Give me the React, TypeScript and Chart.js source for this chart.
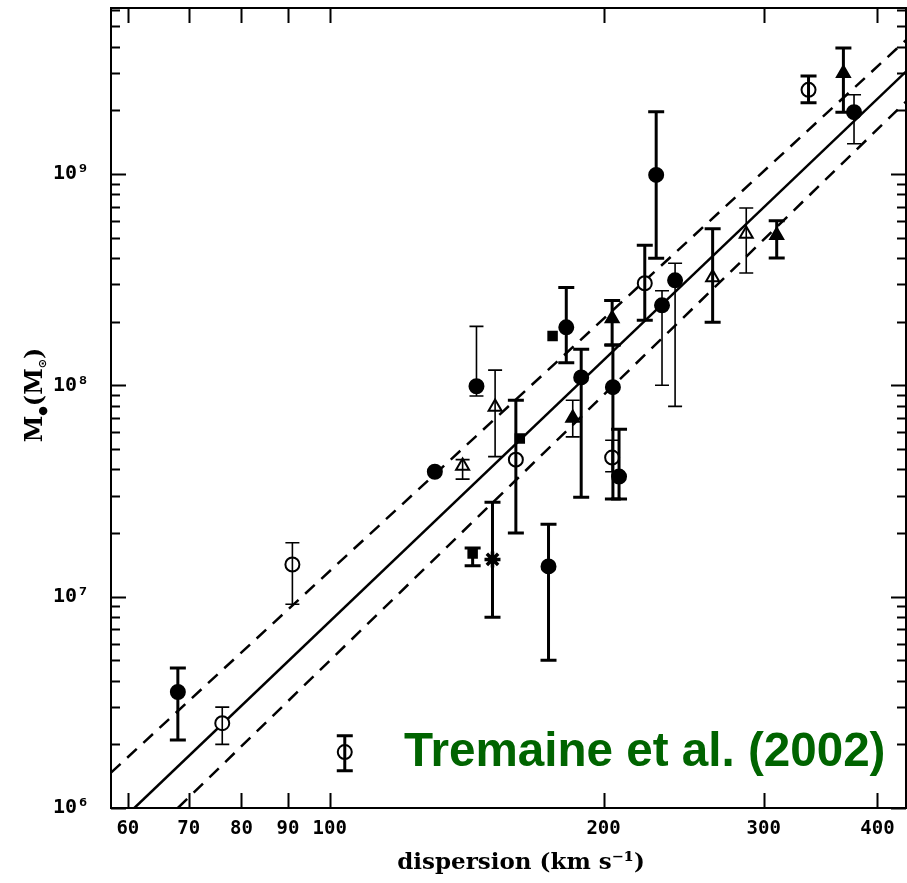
import React, { useEffect, useRef } from 'react';
import { Chart, registerables } from 'chart.js';

Chart.register(...registerables);

// ---- data (velocity dispersion in km/s, black-hole mass in solar masses) ----
const sigma = [68.1, 76.2, 91.0, 103.9, 130.5, 140, 145, 143.6, 152, 151, 161.8, 160.2, 174, 175.8, 182, 185, 189, 204.4, 204.8, 204.4, 208, 222, 228.5, 231.9, 239.7, 263.6, 287, 310, 336, 367, 377];
const mass = [3.54e6, 2.52e6, 1.42e7, 1.84e6, 3.9e7, 4.15e7, 9.9e7, 1.6e7, 7.9e7, 1.5e7, 5.6e7, 4.45e7, 1.39e7, 1.71e8, 1.88e8, 7.0e7, 1.09e8, 2.07e8, 9.8e7, 4.55e7, 3.7e7, 3.04e8, 9.9e8, 2.39e8, 3.14e8, 3.24e8, 5.2e8, 5.13e8, 2.5e9, 3.0e9, 1.96e9];
const massLow = [2.1e6, 2.0e6, 9.2e6, 1.5e6, null, 3.6e7, 8.9e7, 1.4e7, 4.6e7, 8.0e6, null, 2.0e7, 5.0e6, null, 1.28e8, 5.7e7, 2.95e7, 1.55e8, 2.9e7, 3.9e7, 2.9e7, 2.03e8, 3.99e8, 1.0e8, 7.95e7, 1.99e8, 3.4e8, 4.0e8, 2.17e9, 1.96e9, 1.39e9];
const massHigh = [4.6e6, 3.0e6, 1.8e7, 2.2e6, null, 4.45e7, 1.9e8, 1.7e7, 1.18e8, 2.8e7, null, 8.5e7, 2.2e7, null, 2.9e8, 8.5e7, 1.48e8, 2.52e8, 1.55e8, 5.5e7, 6.2e7, 4.6e8, 1.97e9, 2.8e8, 3.78e8, 5.5e8, 6.9e8, 6.0e8, 2.91e9, 3.95e9, 2.37e9];
const markerShape = ['circle', 'circle', 'circle', 'circle', 'circle', 'triangle', 'circle', 'rect', 'triangle', 'star', 'rect', 'circle', 'circle', 'rect', 'circle', 'triangle', 'circle', 'triangle', 'circle', 'circle', 'circle', 'circle', 'circle', 'circle', 'circle', 'triangle', 'triangle', 'triangle', 'circle', 'triangle', 'circle'];
const markerFilled = [true, false, false, false, true, false, true, true, false, true, true, false, true, true, true, true, true, true, true, false, true, false, true, true, true, false, false, true, false, true, true];
const thickError = [true, false, false, true, false, false, false, true, false, true, false, true, true, false, true, false, true, true, true, false, true, true, true, false, false, true, false, true, true, true, false];

// fit line (solid) and its 1-sigma envelope (dashed), read as endpoints
const fitSigma = [61.0, 430];
const fitMass = [1.0e6, 3.05e9];
const upperSigma = [57.5, 430];
const upperMass = [1.47e6, 4.3e9];
const lowerSigma = [68.1, 430];
const lowerMass = [1.0e6, 2.2e9];

// axis ticks
const xTickValues = [60, 70, 80, 90, 100, 200, 300, 400];
const yTickValues = [1e6, 1e7, 1e8, 1e9];
const yTickLabels = ['10\u2076', '10\u2077', '10\u2078', '10\u2079'];

const annotationText = 'Tremaine et al. (2002)';
const xTitle = 'dispersion (km s\u207B\u00B9)';

const decorPlugin = {
  id: 'decor',
  afterDatasetsDraw(chart: any) {
    const ctx = chart.ctx;
    const xs = chart.scales.x;
    const ys = chart.scales.y;
    ctx.save();
    ctx.strokeStyle = '#000';
    for (let i = 0; i < sigma.length; i++) {
      const lo = massLow[i];
      const hi = massHigh[i];
      if (lo == null || hi == null) continue;
      const px = xs.getPixelForValue(sigma[i]);
      const pLo = ys.getPixelForValue(lo);
      const pHi = ys.getPixelForValue(hi);
      const thick = thickError[i];
      ctx.lineWidth = thick ? 3 : 1.6;
      const cap = thick ? 8 : 7;
      ctx.beginPath();
      ctx.moveTo(px, pLo);
      ctx.lineTo(px, pHi);
      ctx.moveTo(px - cap, pLo);
      ctx.lineTo(px + cap, pLo);
      ctx.moveTo(px - cap, pHi);
      ctx.lineTo(px + cap, pHi);
      ctx.stroke();
    }
    ctx.restore();
  },
  afterDraw(chart: any) {
    const ctx = chart.ctx;
    const xs = chart.scales.x;
    const ys = chart.scales.y;
    const a = chart.chartArea;
    ctx.save();
    ctx.strokeStyle = '#000';
    ctx.lineWidth = 2;
    ctx.strokeRect(a.left, a.top, a.right - a.left, a.bottom - a.top);
    ctx.beginPath();
    for (const v of xTickValues) {
      const px = Math.round(xs.getPixelForValue(v)) + 0.5;
      ctx.moveTo(px, a.bottom);
      ctx.lineTo(px, a.bottom - 15);
      ctx.moveTo(px, a.top);
      ctx.lineTo(px, a.top + 15);
    }
    for (let e = 6; e <= 9; e++) {
      for (let m = 1; m <= 9; m++) {
        const v = m * Math.pow(10, e);
        if (v < ys.min || v > ys.max) continue;
        const py = Math.round(ys.getPixelForValue(v)) + 0.5;
        const len = m === 1 ? 15 : 9;
        ctx.moveTo(a.left, py);
        ctx.lineTo(a.left + len, py);
        ctx.moveTo(a.right, py);
        ctx.lineTo(a.right - len, py);
      }
    }
    ctx.stroke();

    // x axis title
    ctx.fillStyle = '#000';
    ctx.font = 'bold 23px "DejaVu Serif"';
    ctx.textAlign = 'center';
    ctx.textBaseline = 'alphabetic';
    ctx.fillText(xTitle, 521, 869);

    // y axis title: M_bullet (M_sun), rotated
    ctx.save();
    ctx.translate(36, 395);
    ctx.rotate(-Math.PI / 2);
    const big = 'bold 24px "DejaVu Serif"';
    const small = 'bold 11px "DejaVu Sans"';
    const parts: [string, string, number][] = [
      ['M', big, 0],
      ['\u25CF', small, 7],
      ['(M', big, 0],
      ['\u2299', small, 7],
      [')', big, 0],
    ];
    let total = 0;
    for (const [t, f] of parts) {
      ctx.font = f;
      total += ctx.measureText(t).width;
    }
    let cx = -total / 2;
    ctx.textAlign = 'left';
    ctx.textBaseline = 'middle';
    for (const [t, f, dy] of parts) {
      ctx.font = f;
      ctx.fillText(t, cx, dy);
      cx += ctx.measureText(t).width;
    }
    ctx.restore();

    // annotation
    ctx.fillStyle = '#006400';
    ctx.font = 'bold 47.6px "Liberation Sans", Arial, sans-serif';
    ctx.textAlign = 'left';
    ctx.textBaseline = 'alphabetic';
    ctx.fillText(annotationText, 404, 766);
    ctx.restore();
  },
};

const zeroPadding = (scale: any) => {
  scale.paddingTop = 0;
  scale.paddingBottom = 0;
  scale.paddingLeft = 0;
  scale.paddingRight = 0;
};

export default function App() {
  const canvasRef = useRef<HTMLCanvasElement | null>(null);

  useEffect(() => {
    const canvas = canvasRef.current;
    if (!canvas) return;
    const points = sigma.map((s, i) => ({ x: s, y: mass[i] }));
    const toXY = (xsArr: number[], ysArr: number[]) => xsArr.map((x, i) => ({ x, y: ysArr[i] }));
    const chart = new Chart(canvas, {
      type: 'scatter',
      data: {
        datasets: [
          {
            type: 'scatter',
            data: points,
            pointStyle: markerShape as any,
            pointRadius: markerShape.map((s) => (s === 'rect' ? 6 : s === 'triangle' ? 7.5 : s === 'star' ? 8 : 7)),
            pointBackgroundColor: markerFilled.map((f) => (f ? '#000' : '#fff')),
            pointBorderColor: '#000',
            pointBorderWidth: markerShape.map((s) => (s === 'star' ? 3.5 : 2)),
            order: 0,
          } as any,
          {
            type: 'line',
            data: toXY(fitSigma, fitMass),
            borderColor: '#000',
            borderWidth: 2.5,
            pointRadius: 0,
            fill: false,
            order: 1,
          } as any,
          {
            type: 'line',
            data: toXY(upperSigma, upperMass),
            borderColor: '#000',
            borderWidth: 2.5,
            borderDash: [13, 9],
            pointRadius: 0,
            fill: false,
            order: 1,
          } as any,
          {
            type: 'line',
            data: toXY(lowerSigma, lowerMass),
            borderColor: '#000',
            borderWidth: 2.5,
            borderDash: [13, 9],
            pointRadius: 0,
            fill: false,
            order: 1,
          } as any,
        ],
      },
      options: {
        animation: false,
        responsive: false,
        layout: { autoPadding: false, padding: { top: 8, right: 1, left: 0, bottom: 0 } },
        plugins: { legend: { display: false }, tooltip: { enabled: false } },
        scales: {
          x: {
            type: 'logarithmic',
            min: 57.5,
            max: 430,
            grid: { display: false, drawTicks: false },
            border: { display: false },
            afterBuildTicks: (scale: any) => {
              scale.ticks = xTickValues.map((v) => ({ value: v }));
            },
            afterFit: (scale: any) => {
              scale.height = 75;
              zeroPadding(scale);
            },
            ticks: {
              autoSkip: false,
              maxRotation: 0,
              padding: 10,
              color: '#000',
              font: { family: '"DejaVu Sans Mono"', size: 19, weight: 'bold' },
              callback: (v: any) => String(v),
            },
          },
          y: {
            type: 'logarithmic',
            min: 1e6,
            max: 6.1e9,
            grid: { display: false, drawTicks: false },
            border: { display: false },
            afterBuildTicks: (scale: any) => {
              scale.ticks = yTickValues.map((v) => ({ value: v }));
            },
            afterFit: (scale: any) => {
              scale.width = 111;
              zeroPadding(scale);
            },
            ticks: {
              autoSkip: false,
              padding: 22,
              color: '#000',
              font: { family: '"DejaVu Sans Mono"', size: 20, weight: 'bold' },
              callback: (v: any) => {
                const i = yTickValues.indexOf(Number(v));
                return i >= 0 ? yTickLabels[i] : '';
              },
            },
          },
        },
      },
      plugins: [decorPlugin],
    });
    return () => chart.destroy();
  }, []);

  return (
    <div style={{ position: 'fixed', left: 0, top: 0, width: 907, height: 883, background: '#fff' }}>
      <canvas ref={canvasRef} width={907} height={883} />
    </div>
  );
}
